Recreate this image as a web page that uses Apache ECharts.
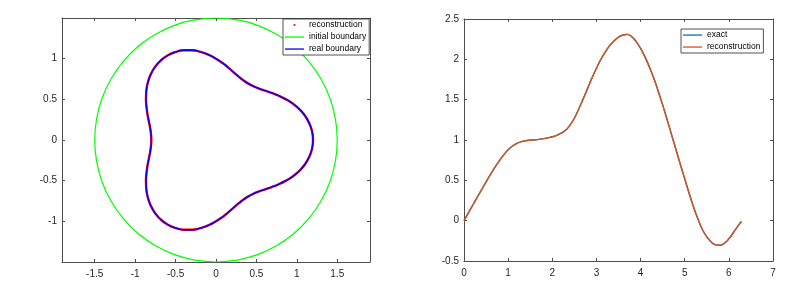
<!DOCTYPE html>
<html><head><meta charset="utf-8">
<script src="https://cdn.jsdelivr.net/npm/echarts@6/dist/echarts.min.js"></script>
<style>html,body{margin:0;padding:0;background:#fff}#c{width:811px;height:288px}</style>
</head><body><div id="c"></div><script>
// ---- Left panel: boundaries (x, y pairs) ----
const realX = [1.2,1.189,1.155,1.103,1.034,0.953,0.866,0.777,0.689,0.607,0.532,0.463,0.4,0.341,0.283,0.222,0.156,0.083,0,-0.092,-0.191,-0.295,-0.401,-0.504,-0.6,-0.684,-0.754,-0.807,-0.843,-0.862,-0.866,-0.859,-0.846,-0.829,-0.814,-0.804,-0.8,
  -0.804,-0.814,-0.829,-0.846,-0.859,-0.866,-0.862,-0.843,-0.807,-0.754,-0.684,-0.6,-0.504,-0.401,-0.295,-0.191,-0.092,0,0.083,0.156,0.222,0.283,0.341,0.4,0.463,0.532,0.607,0.689,0.777,0.866,0.953,1.034,1.103,1.155,1.189,1.2];
const realY = [0,0.104,0.204,0.295,0.376,0.445,0.5,0.544,0.579,0.607,0.633,0.661,0.693,0.731,0.777,0.829,0.886,0.945,1.0,1.048,1.083,1.103,1.103,1.081,1.039,0.977,0.899,0.807,0.707,0.603,0.5,0.401,0.308,0.222,0.144,0.07,0,
  -0.07,-0.144,-0.222,-0.308,-0.401,-0.5,-0.603,-0.707,-0.807,-0.899,-0.977,-1.039,-1.081,-1.103,-1.103,-1.083,-1.048,-1.0,-0.945,-0.886,-0.829,-0.777,-0.731,-0.693,-0.661,-0.633,-0.607,-0.579,-0.544,-0.5,-0.445,-0.376,-0.295,-0.204,-0.104,0];
// reconstruction coincides with the real boundary at this resolution
const reconX = realX.slice();
const reconY = realY.slice();
const initX = [1.5,1.477,1.41,1.299,1.149,0.964,0.75,0.513,0.26,0,-0.26,-0.513,-0.75,-0.964,-1.149,-1.299,-1.41,-1.477,-1.5,-1.477,-1.41,-1.299,-1.149,-0.964,-0.75,-0.513,-0.26,0,0.26,0.513,0.75,0.964,1.149,1.299,1.41,1.477,1.5];
const initY = [0,0.26,0.513,0.75,0.964,1.149,1.299,1.41,1.477,1.5,1.477,1.41,1.299,1.149,0.964,0.75,0.513,0.26,0,-0.26,-0.513,-0.75,-0.964,-1.149,-1.299,-1.41,-1.477,-1.5,-1.477,-1.41,-1.299,-1.149,-0.964,-0.75,-0.513,-0.26,0];
const leftXTicks = [-1.5,-1,-0.5,0,0.5,1,1.5];
const leftYTicks = [-1,-0.5,0,0.5,1];

// ---- Right panel: exact vs reconstruction ----
const tValues = [0,0.1,0.2,0.3,0.4,0.5,0.6,0.7,0.8,0.9,1.0,1.1,1.2,1.3,1.4,1.5,1.6,1.7,1.8,1.9,2.0,2.1,2.2,2.3,2.4,2.5,2.6,2.7,2.8,2.9,3.0,3.1,3.2,3.3,3.4,3.5,3.6,3.7,3.8,3.9,4.0,4.1,4.2,4.3,4.4,4.5,4.6,4.7,4.8,4.9,5.0,5.1,5.2,5.3,5.4,5.5,5.6,5.7,5.8,5.9,6.0,6.1,6.2,6.283];
const exactValues = [0,0.097,0.194,0.29,0.386,0.48,0.574,0.66,0.742,0.815,0.878,0.925,0.958,0.979,0.992,0.998,1.002,1.008,1.017,1.027,1.04,1.058,1.085,1.12,1.185,1.27,1.385,1.51,1.64,1.77,1.89,2.0,2.09,2.17,2.23,2.275,2.3,2.31,2.28,2.22,2.135,2.03,1.905,1.765,1.605,1.435,1.255,1.07,0.885,0.7,0.52,0.34,0.17,0.02,-0.11,-0.2,-0.265,-0.3,-0.305,-0.28,-0.225,-0.15,-0.07,-0.01];
const reconValues = [0,0.097,0.194,0.29,0.386,0.48,0.574,0.66,0.742,0.815,0.878,0.925,0.958,0.979,0.992,0.998,1.002,1.008,1.017,1.027,1.04,1.058,1.085,1.12,1.185,1.27,1.385,1.51,1.64,1.77,1.89,2.0,2.09,2.17,2.23,2.275,2.3,2.31,2.28,2.22,2.135,2.03,1.905,1.765,1.605,1.435,1.255,1.07,0.885,0.7,0.52,0.34,0.17,0.02,-0.11,-0.2,-0.265,-0.3,-0.305,-0.28,-0.225,-0.15,-0.07,-0.01];

const FONT = '"Liberation Sans", Arial, Helvetica, sans-serif';
const AX = '#4d4d4d';
const TXT = '#262626';

function zip(a, b) { return a.map((v, i) => [v, b[i]]); }

function axis(kind, gridIndex, pos, min, max, opts, showLabel) {
  const o = {
    type: 'value', gridIndex, position: pos, min, max, scale: false,
    splitLine: { show: false },
    axisLine: { show: true, onZero: false, lineStyle: { color: AX, width: 1 } },
    axisTick: { show: true, inside: true, length: 3, lineStyle: { color: AX, width: 1 } },
    axisLabel: { show: showLabel, fontSize: 10, fontFamily: FONT, color: TXT, margin: kind === 'x' ? 7 : 5 }
  };
  if (opts.ticks) {
    o.axisTick.customValues = opts.ticks;
    o.axisLabel.customValues = opts.ticks;
  } else {
    o.interval = opts.interval;
  }
  return o;
}

const lineIcon = 'path://M0,0M19,12M0,5.4h19v1.3h-19z';
const dotIcon = 'path://M0,0M19,12M8.6,5.1h1.8v1.8h-1.8z';

const legendBase = {
  orient: 'vertical', padding: [0, 3, 0, 2], itemGap: 0, itemWidth: 19, itemHeight: 12,
  backgroundColor: '#fff', borderColor: '#262626', borderWidth: 0.8, borderRadius: 0,
  selectedMode: false,
  textStyle: { fontSize: 8.5, fontFamily: FONT, color: '#000', lineHeight: 12 }
};

const option = {
  animation: false,
  backgroundColor: '#fff',
  grid: [
    { left: 62, right: 441, top: 18, bottom: 26 },
    { left: 464, right: 38, top: 19, bottom: 27 }
  ],
  xAxis: [
    axis('x', 0, 'bottom', -1.905, 1.905, { ticks: leftXTicks }, true),
    axis('x', 0, 'top', -1.905, 1.905, { ticks: leftXTicks }, false),
    axis('x', 1, 'bottom', 0, 7, { interval: 1 }, true),
    axis('x', 1, 'top', 0, 7, { interval: 1 }, false)
  ],
  yAxis: [
    axis('y', 0, 'left', -1.5, 1.5, { ticks: leftYTicks }, true),
    axis('y', 0, 'right', -1.5, 1.5, { ticks: leftYTicks }, false),
    axis('y', 1, 'left', -0.5, 2.5, { interval: 0.5 }, true),
    axis('y', 1, 'right', -0.5, 2.5, { interval: 0.5 }, false)
  ],
  legend: [
    Object.assign({}, legendBase, {
      left: 283, top: 19,
      data: [
        { name: 'reconstruction', icon: dotIcon, itemStyle: { color: '#ff0000', borderWidth: 0 } },
        { name: 'initial boundary', icon: lineIcon, itemStyle: { color: '#00ff00', borderWidth: 0 } },
        { name: 'real boundary', icon: lineIcon, itemStyle: { color: '#0000ff', borderWidth: 0 } }
      ]
    }),
    Object.assign({}, legendBase, {
      left: 681, top: 29,
      data: [
        { name: 'exact', icon: lineIcon, itemStyle: { color: '#0072bd', borderWidth: 0 } },
        { name: 'reconstruction', icon: lineIcon, itemStyle: { color: '#d95319', borderWidth: 0 } }
      ]
    })
  ],
  series: [
    { name: 'reconstruction', type: 'line', xAxisIndex: 0, yAxisIndex: 0, data: zip(reconX, reconY),
      symbol: 'none', smooth: 0.5, lineStyle: { color: '#ff0000', width: 2.4 }, itemStyle: { color: '#ff0000' } },
    { name: 'initial boundary', type: 'line', xAxisIndex: 0, yAxisIndex: 0, data: zip(initX, initY),
      symbol: 'none', smooth: 0.5, lineStyle: { color: '#00ff00', width: 1.2 }, itemStyle: { color: '#00ff00' } },
    { name: 'real boundary', type: 'line', xAxisIndex: 0, yAxisIndex: 0, data: zip(realX, realY),
      symbol: 'none', smooth: 0.5, lineStyle: { color: '#0000ff', width: 1.4 }, itemStyle: { color: '#0000ff' } },
    { name: 'exact', type: 'line', xAxisIndex: 2, yAxisIndex: 2, data: zip(tValues, exactValues),
      symbol: 'none', smooth: 0.5, lineStyle: { color: '#0072bd', width: 1.4 }, itemStyle: { color: '#0072bd' } },
    { name: 'reconstruction', type: 'line', xAxisIndex: 2, yAxisIndex: 2, data: zip(tValues, reconValues),
      symbol: 'none', smooth: 0.5, lineStyle: { color: '#d95319', width: 1.4 }, itemStyle: { color: '#d95319' } }
  ]
};

const chart = echarts.init(document.getElementById('c'), null, { renderer: 'canvas' });
chart.setOption(option);
</script></body></html>
